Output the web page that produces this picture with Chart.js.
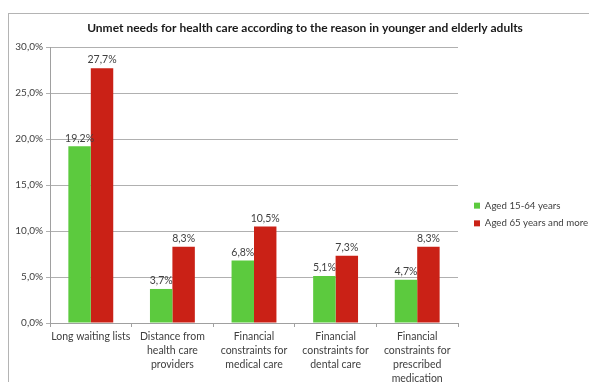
<!DOCTYPE html>
<html>
<head>
<meta charset="utf-8">
<script src="https://cdn.jsdelivr.net/npm/chart.js@4.4.1/dist/chart.umd.min.js"></script>
<style>
  body { margin: 0; background: #fff; }
  #frame { position: absolute; left: 8px; top: 13px; width: 700px; height: 500px;
           border-left: 1px solid #b4b4b4; border-top: 1px solid #b4b4b4; }
  #wrap { position: absolute; left: 0; top: 0; width: 589px; height: 382px; }
</style>
</head>
<body>
<div id="frame"></div>
<div id="wrap"><canvas id="needsChart"></canvas></div>
<script>
// values
const chartTitle = 'Unmet needs for health care according to the reason in younger and elderly adults';
const reasons = [
    ['Long waiting lists'],
    ['Distance from', 'health care', 'providers'],
    ['Financial', 'constraints for', 'medical care'],
    ['Financial', 'constraints for', 'dental care'],
    ['Financial', 'constraints for', 'prescribed', 'medication']
];
const seriesNames = ['Aged 15-64 years', 'Aged 65 years and more'];
const aged15to64 = [19.2, 3.7, 6.8, 5.1, 4.7];
const aged65plus = [27.7, 8.3, 10.5, 7.3, 8.3];

const fontFamily = 'Lato, "Liberation Sans", sans-serif';
const textColor = '#404040';

function pct(v) {
    return v.toFixed(1).replace('.', ',') + '%';
}

// value labels above bars
const barLabels = {
    id: 'barLabels',
    afterDatasetsDraw(chart) {
        const ctx = chart.ctx;
        ctx.save();
        ctx.font = '10.5px ' + fontFamily;
        ctx.fillStyle = textColor;
        ctx.textAlign = 'center';
        ctx.textBaseline = 'bottom';
        chart.data.datasets.forEach((ds, i) => {
            chart.getDatasetMeta(i).data.forEach((bar, j) => {
                ctx.fillText(pct(ds.data[j]), bar.x, bar.y - 3);
            });
        });
        ctx.restore();
    }
};

// title sits off-centre in the original
const chartHeading = {
    id: 'chartHeading',
    afterDraw(chart) {
        const ctx = chart.ctx;
        ctx.save();
        ctx.font = 'bold 12px ' + fontFamily;
        ctx.fillStyle = '#1a1a1a';
        ctx.textAlign = 'center';
        ctx.textBaseline = 'middle';
        ctx.fillText(chartTitle, 305, 28);
        ctx.restore();
    }
};

const ctx = document.getElementById('needsChart').getContext('2d');
new Chart(ctx, {
    type: 'bar',
    data: {
        labels: reasons,
        datasets: [{
            label: seriesNames[0],
            data: aged15to64,
            backgroundColor: '#5cca3e'
        }, {
            label: seriesNames[1],
            data: aged65plus,
            backgroundColor: '#ca2116'
        }]
    },
    options: {
        responsive: true,
        maintainAspectRatio: false,
        animation: false,
        layout: { padding: { top: 47, left: 0, right: 0, bottom: 0 } },
        datasets: {
            bar: { categoryPercentage: 0.55, barPercentage: 1.0 }
        },
        plugins: {
            title: { display: false },
            tooltip: { enabled: false },
            legend: {
                position: 'right',
                maxWidth: 123,
                labels: {
                    boxWidth: 6,
                    boxHeight: 6,
                    padding: 8,
                    color: textColor,
                    font: { family: fontFamily, size: 9.7 }
                }
            }
        },
        scales: {
            x: {
                afterFit(scale) { scale.height = 59; },
                grid: {
                    offset: true,
                    drawOnChartArea: false,
                    drawTicks: true,
                    tickLength: 4,
                    color: '#a0a0a0'
                },
                border: { color: '#a0a0a0' },
                ticks: {
                    color: textColor,
                    font: { family: fontFamily, size: 10.5, lineHeight: 1.333 },
                    maxRotation: 0,
                    autoSkip: false,
                    padding: 3
                }
            },
            y: {
                min: 0,
                max: 30,
                afterFit(scale) { scale.width = 50; },
                grid: {
                    color: '#b0b0b0',
                    tickLength: 4
                },
                border: { color: '#a0a0a0' },
                ticks: {
                    stepSize: 5,
                    color: textColor,
                    padding: 3,
                    font: { family: fontFamily, size: 10 },
                    callback: (v) => pct(v)
                }
            },
            spacer: {
                position: 'right',
                afterFit(scale) { scale.width = 8; },
                grid: { display: false },
                border: { display: false },
                ticks: { display: false }
            }
        }
    },
    plugins: [barLabels, chartHeading]
});
</script>
</body>
</html>
